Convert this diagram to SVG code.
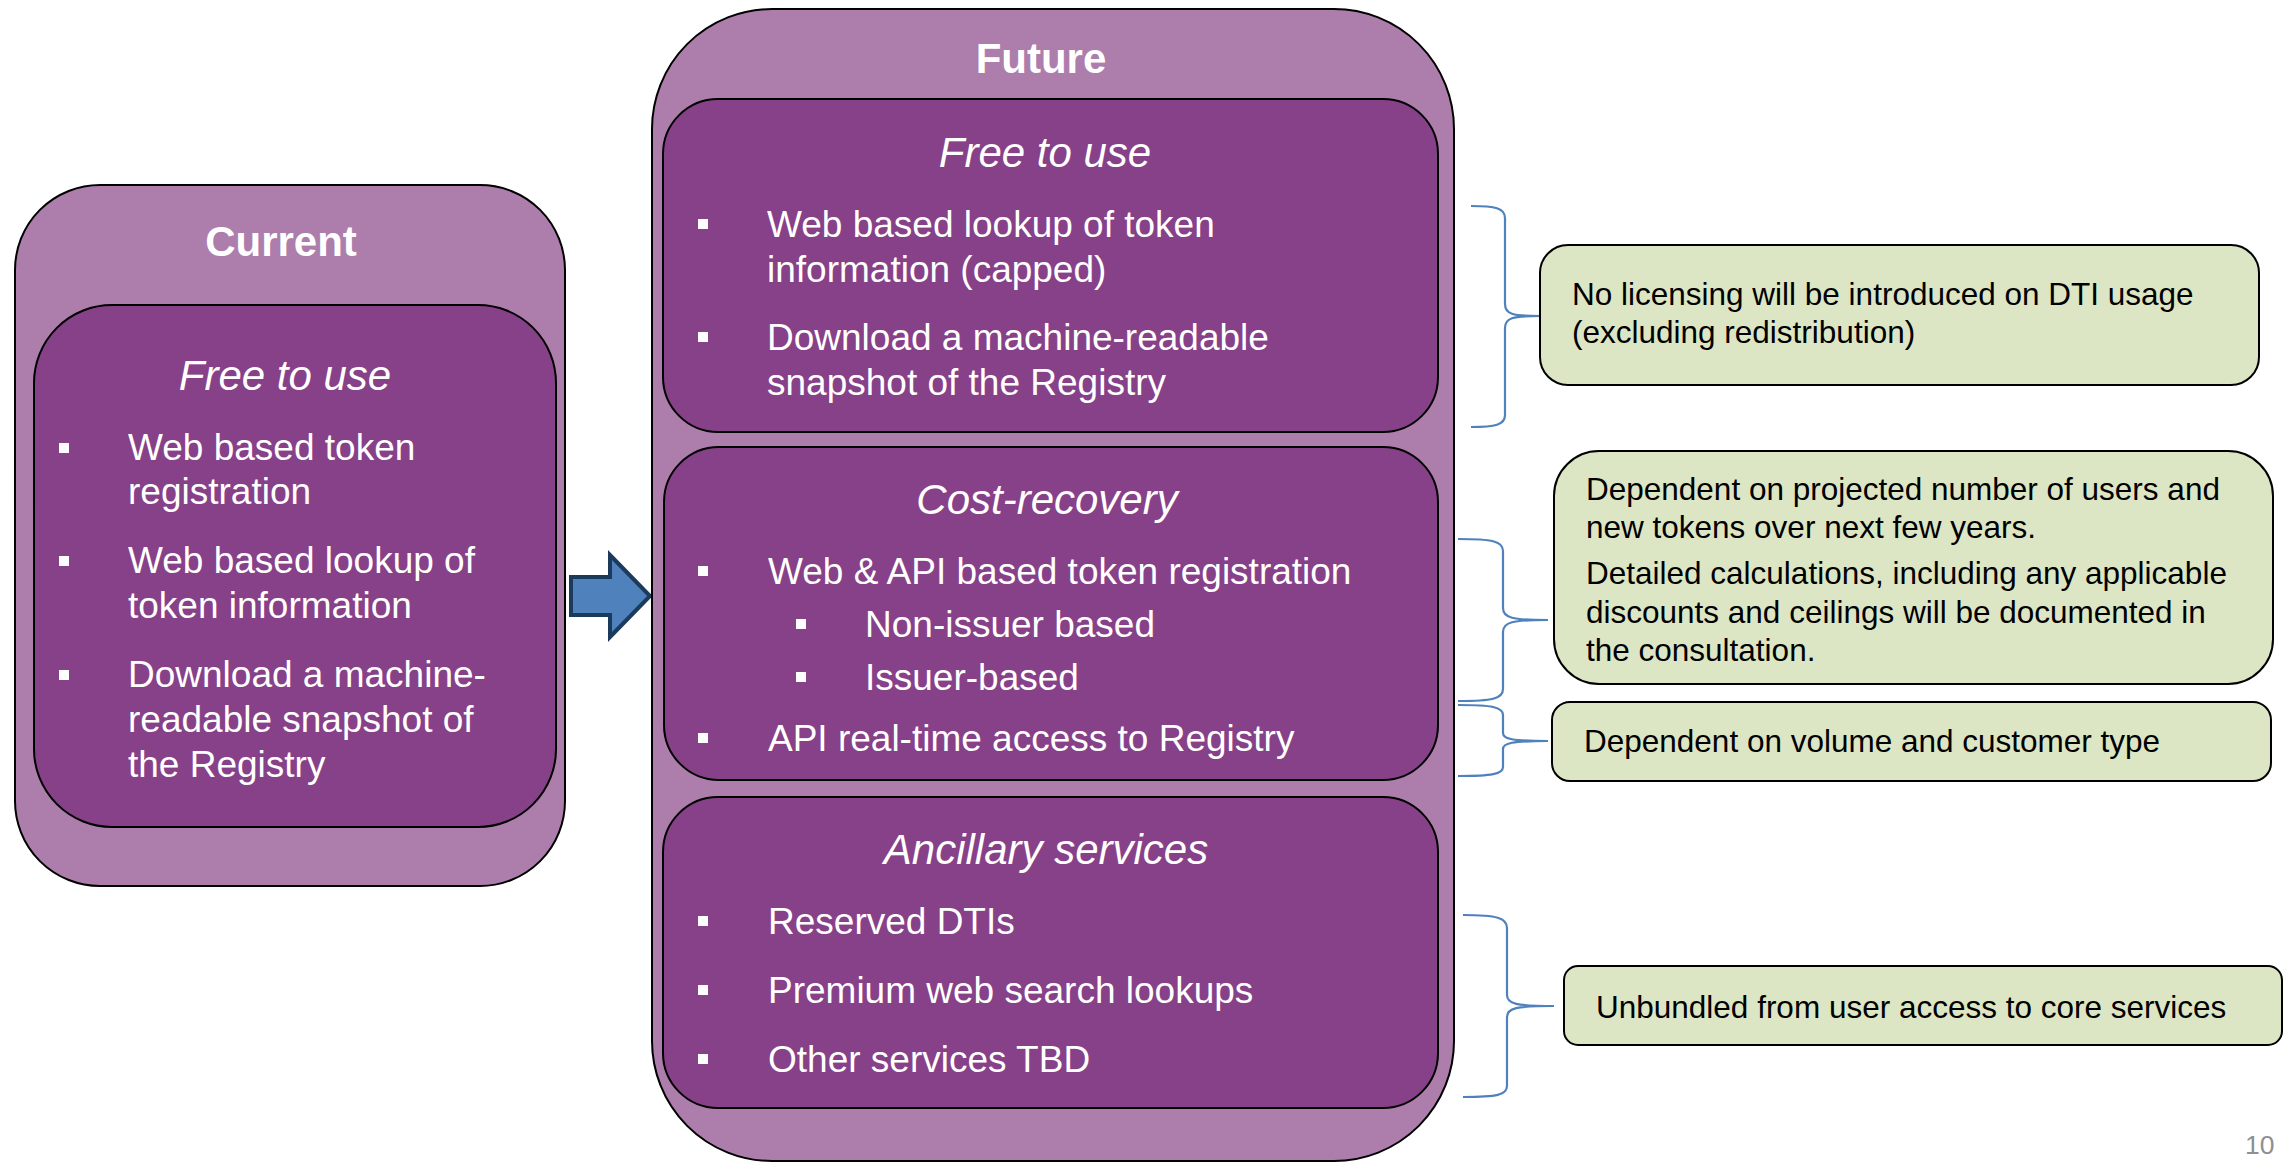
<svg xmlns="http://www.w3.org/2000/svg" width="2285" height="1162" viewBox="0 0 2285 1162">
<style>
.outer{fill:#AD7DAC;stroke:#000;stroke-width:2}
.inner{fill:#874189;stroke:#000;stroke-width:2}
.note{fill:#DCE6C4;stroke:#000;stroke-width:2}
.title{font-family:"Liberation Sans",Arial,sans-serif;font-size:42px;font-weight:bold;fill:#fff;text-anchor:middle}
.head{font-family:"Liberation Sans",Arial,sans-serif;font-size:42px;font-style:italic;fill:#fff;text-anchor:middle}
.item{font-family:"Liberation Sans",Arial,sans-serif;font-size:37px;fill:#fff}
.ntxt{font-family:"Liberation Sans",Arial,sans-serif;font-size:31.5px;fill:#000}
.bul{fill:#fff}
.brace{fill:none;stroke:#4F81BD;stroke-width:2.2}
.pg{font-family:"Liberation Sans",Arial,sans-serif;font-size:26.5px;fill:#8f8f8f}
</style>
<rect width="2285" height="1162" fill="#fff"/>

<g id="current">
  <rect class="outer" x="15" y="185" width="550" height="701" rx="85" ry="85"/>
  <text class="title" x="281" y="256">Current</text>
  <g id="current-free">
    <rect class="inner" x="34" y="305" width="522" height="522" rx="78" ry="78"/>
    <text class="head" x="285" y="390">Free to use</text>
    <rect class="bul" x="59" y="443" width="10" height="10"/>
    <text class="item" x="128" y="460">Web based token</text>
    <text class="item" x="128" y="504">registration</text>
    <rect class="bul" x="59" y="556" width="10" height="10"/>
    <text class="item" x="128" y="573">Web based lookup of</text>
    <text class="item" x="128" y="618">token information</text>
    <rect class="bul" x="59" y="670" width="10" height="10"/>
    <text class="item" x="128" y="687">Download a machine-</text>
    <text class="item" x="128" y="732">readable snapshot of</text>
    <text class="item" x="128" y="777">the Registry</text>
  </g>
</g>

<g id="arrow">
  <path d="M571,577 L610,577 L610,555 L650,596 L610,637 L610,615 L571,615 Z" fill="#4F81BD" stroke="#1B3A5C" stroke-width="4" stroke-linejoin="miter"/>
</g>

<g id="future">
  <rect class="outer" x="652" y="9" width="802" height="1152" rx="120" ry="120"/>
  <text class="title" x="1041" y="73">Future</text>
  <g id="future-free">
    <rect class="inner" x="663" y="99" width="775" height="333" rx="55" ry="55"/>
    <text class="head" x="1045" y="167">Free to use</text>
    <rect class="bul" x="698" y="219" width="10" height="10"/>
    <text class="item" x="767" y="237">Web based lookup of token</text>
    <text class="item" x="767" y="282">information (capped)</text>
    <rect class="bul" x="698" y="332" width="10" height="10"/>
    <text class="item" x="767" y="350">Download a machine-readable</text>
    <text class="item" x="767" y="395">snapshot of the Registry</text>
  </g>
  <g id="future-cost">
    <rect class="inner" x="664" y="447" width="774" height="333" rx="55" ry="55"/>
    <text class="head" x="1047" y="514">Cost-recovery</text>
    <rect class="bul" x="698" y="566" width="10" height="10"/>
    <text class="item" x="768" y="584">Web &amp; API based token registration</text>
    <rect class="bul" x="796" y="619" width="10" height="10"/>
    <text class="item" x="865" y="637">Non-issuer based</text>
    <rect class="bul" x="796" y="672" width="10" height="10"/>
    <text class="item" x="865" y="690">Issuer-based</text>
    <rect class="bul" x="698" y="733" width="10" height="10"/>
    <text class="item" x="768" y="751">API real-time access to Registry</text>
  </g>
  <g id="future-ancillary">
    <rect class="inner" x="663" y="797" width="775" height="311" rx="55" ry="55"/>
    <text class="head" x="1046" y="864">Ancillary services</text>
    <rect class="bul" x="698" y="916" width="10" height="10"/>
    <text class="item" x="768" y="934">Reserved DTIs</text>
    <rect class="bul" x="698" y="985" width="10" height="10"/>
    <text class="item" x="768" y="1003">Premium web search lookups</text>
    <rect class="bul" x="698" y="1054" width="10" height="10"/>
    <text class="item" x="768" y="1072">Other services TBD</text>
  </g>
</g>

<g id="connectors">
  <path class="brace" d="M1471,206 C1495,206 1505,208 1505,218 L1505,304 C1505,314 1512,316 1540,316 M1540,316 C1512,316 1505,318 1505,328 L1505,415 C1505,425 1495,427 1471,427"/>
  <path class="brace" d="M1458,539 C1492,539 1503,541 1503,551 L1503,608 C1503,618 1512,620 1548,620 M1548,620 C1512,620 1503,622 1503,632 L1503,689 C1503,699 1492,701 1458,701"/>
  <path class="brace" d="M1458,705 C1492,705 1503,707 1503,715 L1503,733 C1503,739 1512,741 1548,741 M1548,741 C1512,741 1503,743 1503,749 L1503,767 C1503,774 1492,776 1458,776"/>
  <path class="brace" d="M1463,915 C1497,915 1507,918 1507,928 L1507,995 C1507,1004 1516,1006 1554,1006 M1554,1006 C1516,1006 1507,1008 1507,1017 L1507,1086 C1507,1095 1497,1097 1463,1097"/>
</g>

<g id="note-licensing">
  <rect class="note" x="1540" y="245" width="719" height="140" rx="28" ry="28"/>
  <text class="ntxt" x="1572" y="305">No licensing will be introduced on DTI usage</text>
  <text class="ntxt" x="1572" y="343">(excluding redistribution)</text>
</g>
<g id="note-dependent-users">
  <rect class="note" x="1554" y="451" width="719" height="233" rx="45" ry="45"/>
  <text class="ntxt" x="1586" y="500">Dependent on projected number of users and</text>
  <text class="ntxt" x="1586" y="538">new tokens over next few years.</text>
  <text class="ntxt" x="1586" y="584">Detailed calculations, including any applicable</text>
  <text class="ntxt" x="1586" y="623">discounts and ceilings will be documented in</text>
  <text class="ntxt" x="1586" y="661">the consultation.</text>
</g>
<g id="note-volume">
  <rect class="note" x="1552" y="702" width="719" height="79" rx="18" ry="18"/>
  <text class="ntxt" x="1584" y="752">Dependent on volume and customer type</text>
</g>
<g id="note-unbundled">
  <rect class="note" x="1564" y="966" width="718" height="79" rx="14" ry="14"/>
  <text class="ntxt" x="1596" y="1018">Unbundled from user access to core services</text>
</g>

<text class="pg" x="2245" y="1154">10</text>
</svg>
